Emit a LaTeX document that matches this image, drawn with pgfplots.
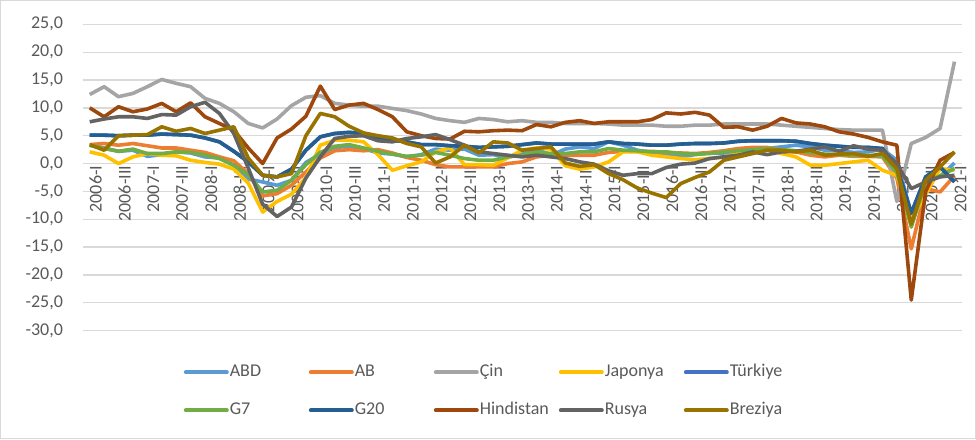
\documentclass[border=0pt]{standalone}
\usepackage{fontspec}
\setmainfont{Carlito}
\usepackage{pgfplots}
\usepackage{pgfplotstable}
\pgfplotsset{compat=1.18}
\definecolor{cABD}{HTML}{5B9BD5}
\definecolor{cAB}{HTML}{ED7D31}
\definecolor{cCIN}{HTML}{A5A5A5}
\definecolor{cJAP}{HTML}{FFC000}
\definecolor{cTUR}{HTML}{4472C4}
\definecolor{cGY}{HTML}{70AD47}
\definecolor{cGT}{HTML}{255E91}
\definecolor{cHIN}{HTML}{9E480E}
\definecolor{cRUS}{HTML}{636363}
\definecolor{cBRE}{HTML}{997300}
\definecolor{gridc}{HTML}{D9D9D9}
\definecolor{textc}{HTML}{595959}
\pgfplotsset{layers/mylayers/.define layer set={axis background,axis grid,axis ticks,axis tick labels,axis lines,main,axis descriptions,axis foreground}{}}

\pgfplotstableread{
i abd ab cin jap tur g7 g20 hin rus bre
0 3.3 3.4 12.4 2.1 5.1 3.3 5.1 10.0 7.5 3.4
1 2.8 3.6 13.8 1.5 5.1 2.7 5.1 8.4 8.0 2.4
2 2.2 3.3 12.0 0.0 5.0 2.2 5.0 10.2 8.4 5.0
3 2.4 3.6 12.6 1.2 5.1 2.6 5.1 9.3 8.4 5.1
4 1.3 3.2 13.8 1.8 5.1 1.8 5.1 9.8 8.1 5.2
5 1.6 2.8 15.1 1.5 5.3 1.8 5.3 10.8 8.8 6.6
6 2.1 2.8 14.4 1.4 5.2 2.1 5.2 9.3 8.7 5.8
7 1.9 2.4 13.8 0.6 5.1 2.0 5.1 10.9 10.2 6.3
8 1.2 2.0 11.7 0.2 4.6 1.5 4.6 8.4 11.0 5.4
9 1.0 1.2 10.8 -0.1 3.9 0.9 3.9 7.2 9.0 6.0
10 -0.3 0.5 9.3 -1.0 2.2 -0.3 2.2 6.0 5.4 6.6
11 -2.8 -1.8 7.2 -3.5 0.3 -2.0 0.3 2.8 -0.8 1.0
12 -3.3 -5.8 6.4 -8.7 -2.1 -5.1 -2.1 0.0 -7.3 -2.1
13 -3.9 -5.4 8.0 -6.8 -2.4 -4.8 -2.4 4.6 -9.5 -2.4
14 -3.0 -3.9 10.4 -5.5 -1.0 -3.0 -1.0 6.2 -7.8 -1.8
15 0.2 -1.5 11.9 -2.5 2.4 -0.2 2.4 8.5 -2.6 5.0
16 1.7 1.0 12.2 3.3 4.8 2.0 4.8 13.9 1.2 9.0
17 2.9 2.3 10.8 4.2 5.4 3.1 5.4 9.7 4.5 8.4
18 3.1 2.5 10.5 4.2 5.6 3.4 5.6 10.5 4.9 6.7
19 2.7 2.3 10.3 3.9 5.4 2.8 5.4 10.8 5.0 5.5
20 1.9 2.5 10.3 1.6 4.5 2.2 4.5 9.7 4.1 5.0
21 1.7 1.9 9.9 -1.2 4.2 1.7 4.2 8.4 3.9 4.6
22 1.2 1.1 9.5 -0.4 3.9 1.3 3.9 5.7 4.5 3.6
23 1.6 0.6 8.9 0.3 3.4 1.5 3.4 5.0 4.8 3.0
24 2.6 -0.2 8.1 2.1 3.4 2.0 3.4 4.5 5.2 0.1
25 2.4 -0.6 7.7 2.8 3.2 1.5 3.2 4.4 4.3 1.2
26 2.6 -0.6 7.4 -0.2 3.1 0.9 3.1 5.8 3.3 3.3
27 1.5 -0.6 8.1 -0.2 2.9 0.6 2.9 5.7 2.1 1.9
28 1.6 -0.6 7.9 -0.3 3.0 0.6 3.0 5.9 1.8 3.9
29 1.1 0.0 7.5 1.0 3.1 1.2 3.1 6.0 1.5 3.7
30 2.0 0.3 7.7 2.4 3.4 1.5 3.4 5.9 1.2 2.4
31 2.6 1.2 7.4 2.8 3.7 2.1 3.7 7.0 1.5 2.7
32 1.5 1.5 7.4 2.6 3.5 1.8 3.5 6.6 1.2 3.0
33 2.6 1.5 7.2 -0.4 3.5 1.8 3.5 7.4 0.9 0.1
34 3.0 1.5 7.2 -1.0 3.5 2.1 3.5 7.7 0.3 -0.5
35 2.7 1.5 7.2 -0.6 3.5 2.1 3.5 7.2 -0.1 -0.2
36 3.9 2.0 7.1 0.3 3.9 2.7 3.9 7.5 -1.3 -1.8
37 3.3 2.2 6.9 2.1 3.6 2.4 3.6 7.5 -2.1 -2.9
38 2.4 2.2 6.9 2.1 3.5 2.3 3.5 7.5 -1.8 -4.4
39 2.0 2.2 6.9 1.5 3.3 2.1 3.3 7.9 -1.8 -5.3
40 1.6 2.0 6.7 1.2 3.3 2.1 3.3 9.1 -0.7 -6.1
41 1.3 1.9 6.7 0.9 3.5 1.8 3.5 8.9 -0.1 -3.6
42 1.6 1.8 6.9 0.7 3.6 1.7 3.6 9.2 0.1 -2.5
43 1.9 2.0 6.9 0.9 3.6 1.8 3.6 8.7 0.9 -1.5
44 1.9 2.3 7.1 1.2 3.7 2.1 3.7 6.5 1.2 0.6
45 2.1 2.7 7.1 1.8 4.0 2.3 4.0 6.6 1.5 1.2
46 2.3 2.9 7.1 2.4 4.1 2.5 4.1 6.0 2.1 1.8
47 2.7 2.9 7.1 2.5 4.1 2.7 4.1 6.7 1.6 2.4
48 3.0 2.4 6.9 1.8 4.1 2.5 4.1 8.1 2.1 2.4
49 3.3 2.1 6.7 1.2 4.0 2.3 4.0 7.3 2.2 2.1
50 3.0 1.5 6.5 -0.3 3.6 2.0 3.6 7.1 2.6 2.4
51 2.4 1.2 6.3 -0.3 3.3 1.7 3.3 6.6 3.0 1.5
52 2.3 1.5 6.1 0.0 3.1 1.6 3.1 5.7 2.2 1.7
53 2.0 1.3 6.0 0.3 2.9 1.5 2.9 5.3 3.2 1.8
54 2.1 1.3 6.0 0.6 2.9 1.5 2.9 4.7 2.6 1.3
55 2.6 1.2 6.0 -1.2 2.7 1.3 2.7 3.9 2.4 1.8
56 0.6 -2.6 -6.8 -2.1 -0.5 -1.5 -0.5 3.3 0.0 -0.9
57 -9.0 -15.3 3.6 -10.1 -8.9 -11.4 -8.9 -24.5 -4.5 -10.9
58 -2.8 -4.5 4.7 -5.5 -2.4 -3.3 -2.4 -5.0 -3.3 -3.0
59 -2.3 -5.1 6.3 -0.9 -0.6 -2.2 -0.6 0.6 -2.4 -0.6
60 0.1 -2.2 18.3 -1.2 -3.3 -0.9 -3.3 2.0 -2.1 2.1
}\data

\begin{document}
\begin{tikzpicture}[x=1pt,y=1pt,font=\fontsize{18}{21.6}\selectfont]
\begin{axis}[
  set layers=mylayers,
  scale only axis, width=879.2pt, height=306.4pt,
  at={(0pt,0pt)}, anchor=south west,
  xmin=-0.5, xmax=60.5, ymin=-30, ymax=25,
  axis x line*=middle, axis y line*=left,
  axis line style={draw=none},
  major tick length=0pt,
  ytick={-30,-25,...,25},
  xtick={0,2,...,60},
  xticklabels={2006-I,2006-III,2007-I,2007-III,2008-I,2008-III,2009-I,2009-III,2010-I,2010-III,2011-I,2011-III,2012-I,2012-III,2013-I,2013-III,2014-I,2014-III,2015-I,2015-III,2016-I,2016-III,2017-I,2017-III,2018-I,2018-III,2019-I,2019-III,2020-I,2020-III,2021-I},
  ymajorgrids, grid style={gridc, line width=1.3pt},
  tick label style={color=textc, font=\fontsize{18}{21.6}\selectfont},
  xticklabel style={rotate=90, anchor=east, inner sep=2pt, yshift=-6pt},
  yticklabel style={anchor=east, xshift=-16pt, /pgf/number format/.cd, fixed, fixed zerofill, precision=1, use comma, assume math mode=true},
  every axis plot/.append style={line width=3.6pt, line join=round, no markers},
  legend columns=5,
  legend cell align=left,
  legend image code/.code={\draw[#1, line width=4pt, line cap=round] (2pt,0pt) -- (43pt,0pt);},
  legend style={draw=none, fill=none, at={(rel axis cs:0.115,-0.198)}, anchor=west,
    font=\fontsize{18}{21.6}\selectfont, text=textc, row sep=19pt, inner sep=0pt,
    nodes={inner sep=1pt, text height=13pt, text depth=4pt}},
]
\addplot[color=cABD] table[x=i,y=abd]{\data};
\addlegendentry{\makebox[78pt][l]{ABD}}
\addplot[color=cAB] table[x=i,y=ab]{\data};
\addlegendentry{\makebox[78pt][l]{AB}}
\addplot[color=cCIN] table[x=i,y=cin]{\data};
\addlegendentry{\makebox[78pt][l]{Çin}}
\addplot[color=cJAP] table[x=i,y=jap]{\data};
\addlegendentry{\makebox[78pt][l]{Japonya}}
\addplot[color=cTUR] table[x=i,y=tur]{\data};
\addlegendentry{\makebox[78pt][l]{Türkiye}}
\addplot[color=cGY] table[x=i,y=g7]{\data};
\addlegendentry{\makebox[78pt][l]{G7}}
\addplot[color=cGT] table[x=i,y=g20]{\data};
\addlegendentry{\makebox[78pt][l]{G20}}
\addplot[color=cHIN] table[x=i,y=hin]{\data};
\addlegendentry{\makebox[78pt][l]{Hindistan}}
\addplot[color=cRUS] table[x=i,y=rus]{\data};
\addlegendentry{\makebox[78pt][l]{Rusya}}
\addplot[color=cBRE] table[x=i,y=bre]{\data};
\addlegendentry{\makebox[78pt][l]{Breziya}}
\end{axis}
\pgfresetboundingbox
\path[use as bounding box] (-82.5,-108.3) rectangle (893.5,330.7);
\draw[color=gridc, line width=1.5pt] (-81.75,-107.55) rectangle (892.75,329.95);
\end{tikzpicture}
\end{document}
